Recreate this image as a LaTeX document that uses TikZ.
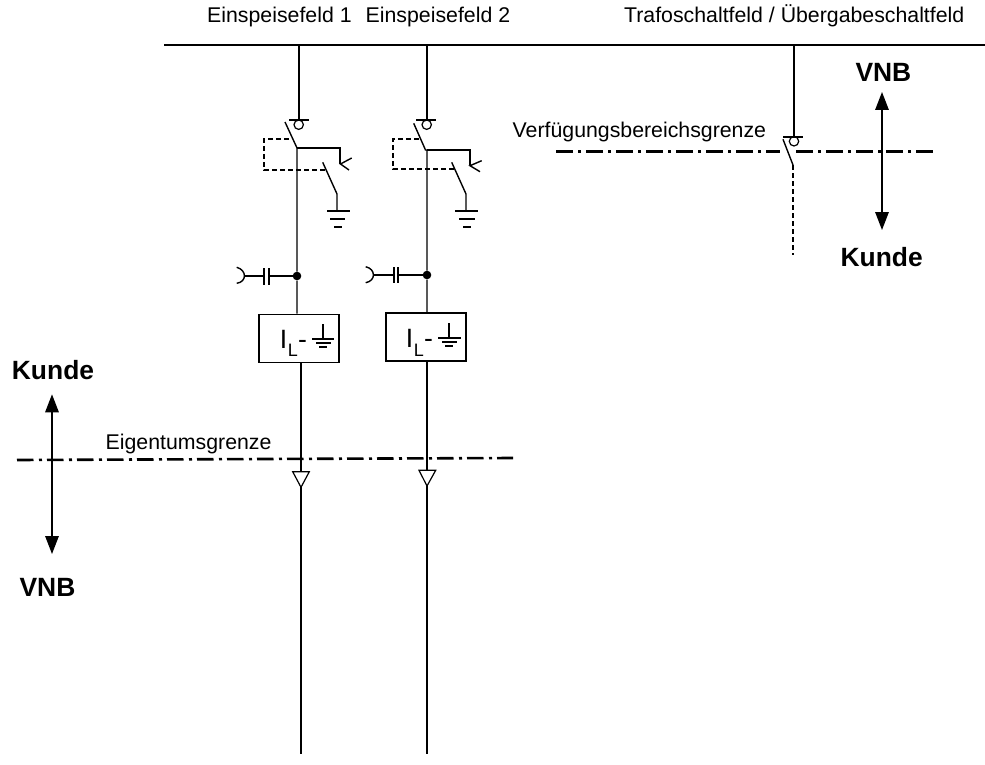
\documentclass[tikz,border=0pt]{standalone}
\usepackage{fontspec}
\setmainfont{Liberation Sans}
\usetikzlibrary{arrows.meta}
\tikzset{
  x=1pt,y=-1pt,
  wire/.style={line width=1.4pt,black},
  thick wire/.style={line width=1.5pt},
  boxed/.style={draw,line width=1.6pt,minimum width=80pt,minimum height=48pt,inner sep=0pt},
  ctrl/.style={line width=2.2pt,dash pattern=on 5pt off 3pt},
  boundary/.style={line width=2.6pt,dash pattern=on 16.5pt off 5.5pt on 3pt off 5pt},
  lab/.style={font=\fontsize{21.3}{24}\selectfont,inner sep=0pt,anchor=base west},
  side/.style={font=\bfseries\fontsize{26.4}{30}\selectfont,inner sep=0pt,anchor=base},
  big/.style={font=\fontsize{26.5}{30}\selectfont,inner sep=0pt,anchor=base west},
  subs/.style={font=\fontsize{18}{20}\selectfont,inner sep=0pt,anchor=base west},
  updown/.style={line width=1.5pt,{Triangle[length=18pt,width=13.5pt]}-{Triangle[length=18pt,width=13.5pt]}},
  junct/.style={circle,fill=black,inner sep=0pt,minimum size=8.6pt},
  iso/.style={circle,draw,line width=1.2pt,inner sep=0pt,minimum size=9.4pt},
  tri/.style={draw,line width=1.2pt}
}
\begin{document}
\begin{tikzpicture}
\useasboundingbox (0,0) rectangle (985,765);
% labels
\node[lab] (e1) at (207,23) {Einspeisefeld 1};
\node[lab] (e2) at (365.5,23) {Einspeisefeld 2};
\node[lab,anchor=base east] (tr) at (964.5,23) {Trafoschaltfeld / Übergabeschaltfeld};
\node[lab] (vg) at (512.5,137.7) {Verfügungsbereichsgrenze};
\node[lab] (eg) at (105.5,449) {Eigentumsgrenze};
\node[side] (vnbR) at (883.4,81.7) {VNB};
\node[side] (kuR) at (881.7,266.7) {Kunde};
\node[side] (kuL) at (53,379.3) {Kunde};
\node[side] (vnbL) at (47.5,596) {VNB};
% bus bar
\coordinate (busL) at (164,45); \coordinate (busR) at (985,45);
\draw[wire] (busL) -- (busR);
% boundaries
\coordinate (b1a) at (17,460); \coordinate (b1b) at (513,458);
\coordinate (b2a) at (556,151.5); \coordinate (b2b) at (933,151.5);
\draw[boundary] (b1a) -- (b1b);
\draw[boundary] (b2a) -- (b2b);
% up/down arrows
\coordinate (aRt) at (882,92); \coordinate (aRb) at (882,230);
\coordinate (aLt) at (52,394.3); \coordinate (aLb) at (52,554);
\draw[updown] (aRt) -- (aRb);
\draw[updown] (aLt) -- (aLb);
% ---- feeder 1
\node[iso] (c1) at (298.7,124.7) {};
\node[junct] (j1) at (297,276) {};
\node[boxed] (m1) at (299,338.5) {};
\draw[wire] (299,45) -- (299,120);
\draw[wire] (289,120) -- (309,120);
\draw[wire] (285,122) -- (297,148) -- (j1) -- (m1.north -| j1);
\draw[wire] (297,148) -- (340,148) -- (340,164);
\draw[wire] (351.7,158) -- (340.5,164) -- (349,170);
\draw[ctrl] (289,139) -- (264,139) -- (264,170) -- (326,170);
\draw[wire] (322.7,162.3) -- (337,194) -- (337,211);
\draw[thick wire] (327,211) -- (350,211) (330,219) -- (345,219) (334,227) -- (342,227);
\draw[wire] (j1) -- (245,276);
\draw[wire] (236.7,267.3) .. controls (247,270) and (247,282) .. (236.7,283.3);
\draw[fill=white,draw=none] (264.8,266) rectangle (268.8,286);
\draw[thick wire] (264,268) -- (264,285) (269,268) -- (269,285);
\node[big] (il1) at (279.6,348.3) {I};
\node[subs] (is1) at (287.7,356.7) {L};
\node[big] (d1) at (298,348.3) {-};
\draw[wire] (323,324) -- (323,339);
\draw[thick wire] (312,339) -- (334,339) (316,343) -- (331,343) (319,347) -- (327,347);
\coordinate (t1) at (301,471.7); \coordinate (t1a) at (301,487.3);
\draw[wire] (m1.south -| t1) -- (t1);
\draw[tri] (292.7,471.7) -- (309.3,471.7) -- (t1a) -- cycle;
\draw[wire] (t1a) -- (301,754);
% ---- feeder 2
\node[iso] (c2) at (426.7,124.7) {};
\node[junct] (j2) at (427,275) {};
\node[boxed] (m2) at (426,337) {};
\draw[wire] (427,45) -- (427,120);
\draw[wire] (416,120) -- (436,120);
\draw[wire] (413.7,123.3) -- (425.5,150) -- (427,150) -- (j2) -- (m2.north -| j2);
\draw[wire] (427,150) -- (470,150) -- (470,165);
\draw[wire] (481.7,160.7) -- (470,165.7) -- (480,171.7);
\draw[ctrl] (419,139) -- (393,139) -- (393,169) -- (455,169);
\draw[wire] (451.7,162.3) -- (466,194) -- (466,211);
\draw[thick wire] (455,211) -- (478,211) (459,219) -- (475,219) (463,227) -- (471,227);
\draw[wire] (j2) -- (373.5,275);
\draw[wire] (365.7,266.7) .. controls (376,269) and (376,281) .. (365.7,282.7);
\draw[fill=white,draw=none] (394.5,265) rectangle (397.8,285);
\draw[thick wire] (394,267) -- (394,283) (398,267) -- (398,283);
\node[big] (il2) at (405.6,347.3) {I};
\node[subs] (is2) at (413.7,356) {L};
\node[big] (d2) at (424,347.3) {-};
\draw[wire] (449,323.3) -- (449,338);
\draw[thick wire] (438,338) -- (461,338) (442,342) -- (457,342) (445,346) -- (453,346);
\coordinate (t2) at (427,470.3); \coordinate (t2a) at (427,486);
\draw[wire] (m2.south -| t2) -- (t2);
\draw[tri] (419,470.3) -- (435.7,470.3) -- (t2a) -- cycle;
\draw[wire] (t2a) -- (427,754);
% ---- transfer panel
\draw[draw=none,fill=white] (780,148) rectangle (796,155);
\node[iso] (c3) at (794,141.3) {};
\draw[wire] (794,45) -- (794,137);
\draw[wire] (783,137) -- (803,137);
\coordinate (sw3) at (793,165); \coordinate (end3) at (793,255);
\draw[wire] (783,139.3) -- (sw3);
\draw[line width=2pt,dash pattern=on 5pt off 3pt] (sw3) -- (end3);
\end{tikzpicture}
\end{document}
